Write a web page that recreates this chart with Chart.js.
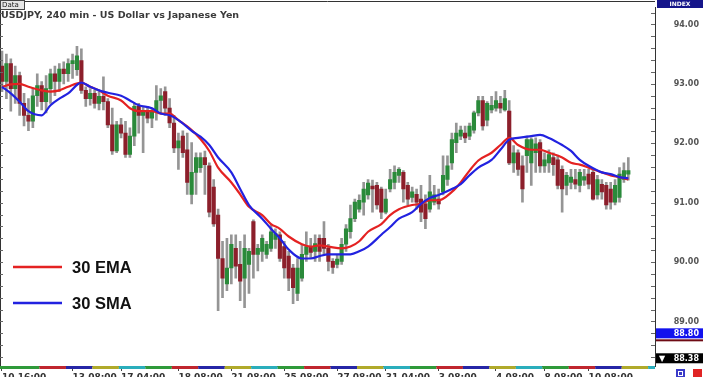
<!DOCTYPE html>
<html>
<head>
<meta charset="utf-8">
<style>
html, body { margin: 0; padding: 0; background: #fff; overflow: hidden; }
#chart_container { width: 705px; height: 384px; position: relative; }
</style>
</head>
<body>
<div id="chart_container">
  <canvas id="myChart"></canvas>
</div>

<script src="https://cdn.jsdelivr.net/npm/chart.js"></script>

<script>
const chartTitle = 'USDJPY, 240 min - US Dollar vs Japanese Yen';

// 240 min candles
const opens = [93.30,93.04,93.34,92.92,93.14,92.67,92.47,92.37,92.80,92.97,
  92.70,92.92,93.17,93.04,93.25,93.17,93.34,93.24,93.39,92.89,
  92.75,92.84,92.67,92.79,92.70,92.31,91.87,92.31,92.17,91.81,
  92.12,92.62,92.47,92.54,92.42,92.54,92.72,92.87,92.59,92.34,
  91.92,92.12,91.89,91.14,91.51,91.59,91.76,91.62,91.26,90.79,
  90.06,89.63,89.90,90.23,89.96,89.73,89.96,90.68,90.13,90.18,
  90.13,90.23,90.38,90.46,90.26,90.10,89.90,89.47,89.73,90.13,
  90.26,90.18,90.40,90.40,90.23,90.01,89.96,90.01,90.30,90.51,
  90.73,90.89,91.01,91.13,91.28,91.29,91.23,90.84,91.23,91.34,
  91.46,91.51,91.29,91.09,91.14,91.06,90.98,90.89,91.01,91.06,
  91.18,91.39,91.67,92.01,92.12,92.17,92.12,92.22,92.51,92.72,
  92.39,92.56,92.59,92.67,92.56,92.54,91.67,91.84,91.62,91.79,
  91.67,91.84,92.01,91.62,91.67,91.76,91.72,91.56,91.29,91.34,
  91.39,91.29,91.38,91.48,91.51,91.13,91.31,91.29,91.23,91.01,
  91.09,91.39,91.48];
const highs = [93.55,93.50,93.42,93.30,93.20,92.84,92.75,92.92,93.17,93.04,
  93.14,93.25,93.30,93.34,93.37,93.42,93.50,93.63,93.59,92.95,
  92.92,92.89,92.87,93.12,92.75,92.59,92.37,92.42,92.37,92.26,
  92.67,92.67,92.62,92.62,92.59,92.97,92.92,92.95,92.75,92.47,
  92.17,92.21,92.17,92.01,91.84,91.84,91.87,91.67,91.39,90.89,
  90.35,90.40,90.46,90.46,90.35,90.46,90.23,90.71,90.30,90.46,
  90.35,90.63,90.56,90.51,90.35,90.18,89.96,90.06,90.30,90.51,
  90.40,90.46,90.46,90.68,90.30,90.06,90.13,90.40,90.63,90.96,
  91.06,91.13,91.34,91.39,91.38,91.34,91.26,91.23,91.56,91.62,
  91.59,91.54,91.34,91.26,91.23,91.29,91.13,91.46,91.29,91.23,
  91.79,91.79,92.17,92.34,92.29,92.29,92.34,92.54,92.79,92.79,
  92.70,92.79,92.87,92.79,92.89,92.72,91.96,91.89,91.79,92.12,
  92.09,92.09,92.06,91.84,91.89,91.84,91.79,91.62,91.51,91.56,
  91.56,91.56,91.56,91.56,91.56,91.46,91.39,91.34,91.34,91.39,
  91.59,91.67,91.76];
const lows = [92.87,92.75,92.54,92.67,92.47,92.29,92.21,92.26,92.62,92.56,
  92.51,92.67,92.80,92.87,93.00,93.04,93.09,93.14,92.84,92.62,
  92.64,92.59,92.56,92.56,92.26,91.81,91.84,92.09,91.76,91.76,
  91.96,92.17,91.84,92.34,92.26,92.39,92.51,92.47,92.26,91.84,
  91.56,91.76,91.14,90.98,91.14,91.51,91.14,90.76,90.60,89.18,
  89.40,89.52,89.63,89.73,89.35,89.23,89.47,89.73,89.85,90.01,
  90.06,90.18,90.23,90.01,89.73,89.52,89.30,89.35,89.68,90.01,
  90.06,90.01,90.01,90.13,89.85,89.81,89.90,89.96,90.18,90.40,
  90.68,90.84,90.79,91.06,90.84,90.89,90.73,90.81,91.18,91.23,
  91.34,91.01,90.96,91.01,90.89,90.68,90.56,90.84,90.96,90.89,
  91.13,91.29,91.56,91.84,92.06,92.01,92.06,92.17,92.46,92.22,
  92.29,92.51,92.54,92.51,92.54,91.64,91.51,91.46,91.01,91.51,
  91.29,91.51,91.51,91.51,91.51,91.46,91.23,90.84,91.13,91.23,
  91.23,91.18,91.29,91.23,91.04,91.06,91.06,90.89,90.89,90.96,
  91.01,91.34,91.38];
const closes = [93.04,93.34,92.92,93.14,92.67,92.47,92.37,92.80,92.97,92.70,
  92.92,93.17,93.04,93.25,93.17,93.34,93.39,93.47,92.89,92.75,
  92.84,92.67,92.79,92.70,92.31,91.87,92.31,92.17,91.81,92.12,
  92.62,92.47,92.54,92.42,92.54,92.72,92.80,92.59,92.34,91.92,
  92.04,91.84,91.34,91.51,91.76,91.76,91.64,90.84,90.64,90.06,
  89.73,89.90,90.30,89.93,89.68,90.23,90.18,90.13,90.23,90.40,
  90.30,90.51,90.48,90.06,89.90,89.73,89.57,89.90,90.13,90.26,
  90.16,90.31,90.18,90.23,90.01,89.91,90.05,90.30,90.56,90.73,
  91.01,91.04,91.23,91.33,91.23,90.96,90.84,91.06,91.39,91.51,
  91.56,91.23,91.06,91.18,91.01,90.84,90.73,91.18,91.13,90.98,
  91.46,91.62,92.06,92.17,92.22,92.09,92.29,92.51,92.72,92.29,
  92.67,92.64,92.72,92.59,92.75,91.67,91.84,91.56,91.23,92.06,
  92.06,91.99,91.62,91.72,91.81,91.64,91.29,91.23,91.46,91.43,
  91.31,91.51,91.44,91.31,91.06,91.39,91.18,90.96,91.01,91.29,
  91.48,91.54,91.54];

// moving averages, sampled along the candle index
const maIndex = [0,2,4,6,9,11,13,15,18,20,22,24,27,29,31,34,36,38,40,43,
  45,47,49,52,54,56,59,61,63,65,68,70,72,74,77,79,81,83,86,88,
  90,93,95,97,99,102,104,106,108,111,113,115,117,120,122,124,127,129,131,133,
  136,138,140,142];
const emaValues = [92.95,92.99,93.00,92.95,92.89,92.87,92.89,92.95,93.02,92.95,
  92.89,92.80,92.72,92.59,92.54,92.54,92.50,92.50,92.39,92.22,
  92.07,91.87,91.59,91.34,91.14,90.93,90.79,90.64,90.56,90.43,
  90.30,90.26,90.28,90.26,90.23,90.26,90.35,90.51,90.64,90.79,
  90.89,90.96,90.98,91.04,91.04,91.18,91.34,91.54,91.71,91.84,
  91.97,92.09,91.97,91.89,91.89,91.84,91.76,91.67,91.64,91.59,
  91.51,91.46,91.43,91.39];
const smaValues = [92.95,92.84,92.70,92.54,92.47,92.64,92.75,92.84,93.02,92.95,
  92.89,92.85,92.80,92.72,92.64,92.59,92.50,92.47,92.39,92.21,
  92.11,91.97,91.76,91.51,91.23,90.96,90.73,90.56,90.40,90.21,
  90.06,90.06,90.10,90.13,90.13,90.13,90.18,90.26,90.46,90.59,
  90.73,90.84,90.98,91.08,91.13,91.23,91.31,91.46,91.59,91.72,
  91.89,92.06,92.09,92.12,92.14,92.09,91.97,91.87,91.72,91.62,
  91.51,91.48,91.43,91.41];

const xTickIndex = [0,16,27,40,52,64,76,87,99,112,123,133];
const xTickLabels = ['10 16:00','13 08:00','17 04:00','18 08:00','21 08:00','25 08:00',
  '27 08:00','31 04:00','3 08:00','4 08:00','8 08:00','10 08:00'];
const yTickLabels = ['89.00','90.00','91.00','92.00','93.00','94.00'];
const bidAsk = [88.80, 88.38];

const upColor = '#2a8a3a';
const downColor = '#8c1f2b';
const candleX = opens.map((v, i) => i);

// Colour strip under the time axis
const dayColors = ['#2f9a3a', '#c0262e', '#2626a6', '#b0aa2a', '#2aaebc'];

const frame = {
  id: 'frame',
  afterDraw(chart) {
    const ctx = chart.ctx, a = chart.chartArea;
    const xs = chart.scales.x, ys = chart.scales.y;
    ctx.save();

    // day strip
    let start = xs.left, k = 0;
    for (let i = 9; ; i += 6) {
      const end = Math.min(xs.getPixelForValue(i - 0.5), a.right);
      ctx.fillStyle = dayColors[k % dayColors.length];
      ctx.fillRect(start, a.bottom, end - start, 3);
      start = end; k++;
      if (end >= a.right) break;
    }

    // frame lines
    ctx.strokeStyle = '#333';
    ctx.lineWidth = 1;
    ctx.beginPath();
    ctx.moveTo(0, 1.5); ctx.lineTo(a.right, 1.5);
    ctx.moveTo(0.5, 1); ctx.lineTo(0.5, a.bottom);
    ctx.stroke();

    // small ticks, inside both edges
    ctx.strokeStyle = '#666';
    ctx.beginPath();
    ys.ticks.forEach(t => {
      const py = Math.round(ys.getPixelForValue(t.value)) + 0.5;
      ctx.moveTo(a.right - 4, py); ctx.lineTo(a.right, py);
      ctx.moveTo(0, py); ctx.lineTo(3, py);
    });
    ctx.stroke();

    // title box
    ctx.fillStyle = '#e6e6e6';
    ctx.fillRect(0.5, 0.5, 24, 9);
    ctx.strokeStyle = '#444';
    ctx.strokeRect(0.5, 0.5, 24, 9);
    ctx.fillStyle = '#222';
    ctx.font = '7px "DejaVu Sans"';
    ctx.textBaseline = 'middle';
    ctx.textAlign = 'left';
    ctx.fillText('Data', 2, 5.5);
    ctx.fillStyle = '#3a3a3a';
    ctx.font = 'bold 9.5px "DejaVu Sans"';
    ctx.fillText(chartTitle, 1, 16);

    // INDEX badge
    ctx.fillStyle = '#15158a';
    ctx.fillRect(657, 0, 46, 8);
    ctx.fillStyle = '#fff';
    ctx.font = 'bold 6px "DejaVu Sans"';
    ctx.textAlign = 'center';
    ctx.fillText('INDEX', 680, 4.5);

    // price badges
    ctx.font = 'bold 8px "DejaVu Sans"';
    ctx.textAlign = 'right';
    const pBid = ys.getPixelForValue(bidAsk[0]);
    ctx.fillStyle = '#1212ee';
    ctx.fillRect(a.right + 1, pBid - 5, 47, 10);
    ctx.fillStyle = '#fff';
    ctx.fillText(bidAsk[0].toFixed(2), 699, pBid + 0.5);
    ctx.fillStyle = '#6e0a14';
    ctx.fillRect(a.right + 1, pBid + 6, 47, 2);
    const pAsk = ys.getPixelForValue(bidAsk[1]);
    ctx.fillStyle = '#000';
    ctx.fillRect(a.right + 1, pAsk - 5, 47, 10);
    ctx.fillStyle = '#fff';
    ctx.fillText(bidAsk[1].toFixed(2), 699, pAsk + 0.5);
    ctx.textAlign = 'left';
    ctx.fillText('\u25BC', 659, pAsk + 0.5);

    // little buttons bottom right
    ctx.fillStyle = '#3a3ac8';
    ctx.fillRect(676, 369, 9, 8);
    ctx.fillStyle = '#e02424';
    ctx.fillRect(693, 369, 9, 8);
    ctx.strokeStyle = '#fff';
    ctx.strokeRect(678.5, 371.5, 4, 4);

    // legend
    ctx.font = 'bold 16.5px "Liberation Sans"';
    ctx.textBaseline = 'middle';
    [[2, 267], [3, 303]].forEach(([d, py]) => {
      const ds = chart.data.datasets[d];
      ctx.strokeStyle = ds.borderColor;
      ctx.lineWidth = 2.5;
      ctx.beginPath();
      ctx.moveTo(13, py); ctx.lineTo(62, py);
      ctx.stroke();
      ctx.fillStyle = '#111';
      ctx.fillText(ds.label, 72, py + 1);
    });
    ctx.restore();
  }
};

const ctx = document.getElementById('myChart');

new Chart(ctx, {
  type: 'bar',
  data: {
    datasets: [{
      label: 'wicks',
      data: candleX.map(i => ({x: i, y: [lows[i], highs[i]]})),
      backgroundColor: '#959595',
      barThickness: 2,
      grouped: false,
      order: 3
    }, {
      label: 'bodies',
      data: candleX.map(i => ({x: i, y: [opens[i], closes[i]]})),
      backgroundColor: candleX.map(i => closes[i] >= opens[i] ? upColor : downColor),
      barThickness: 3.5,
      minBarLength: 1,
      grouped: false,
      order: 2
    }, {
      type: 'line',
      label: '30 EMA',
      data: maIndex.map((x, k) => ({x: x, y: emaValues[k]})),
      borderColor: '#e42222',
      borderWidth: 2.2,
      pointRadius: 0,
      cubicInterpolationMode: 'monotone',
      order: 1
    }, {
      type: 'line',
      label: '30 SMA',
      data: maIndex.map((x, k) => ({x: x, y: smaValues[k]})),
      borderColor: '#2222e0',
      borderWidth: 2.2,
      pointRadius: 0,
      cubicInterpolationMode: 'monotone',
      order: 0
    }]
  },
  options: {
    responsive: true,
    maintainAspectRatio: false,
    animation: false,
    layout: { padding: { top: 3, right: 6, left: 0, bottom: 0 } },
    plugins: { legend: { display: false }, tooltip: { enabled: false } },
    scales: {
      x: {
        type: 'linear',
        offset: false,
        min: -0.45,
        max: 148.05,
        afterBuildTicks: s => { s.ticks = xTickIndex.map(v => ({value: v})); },
        afterFit: s => { s.height = 18; },
        ticks: {
          autoSkip: false,
          maxRotation: 0,
          align: 'start',
          padding: 1,
          color: '#333',
          font: { family: 'DejaVu Sans', size: 9, weight: 'bold' },
          callback: v => xTickLabels[xTickIndex.indexOf(v)]
        },
        grid: { offset: false, drawOnChartArea: false, tickLength: 5, color: '#444' },
        border: { color: '#444' }
      },
      y: {
        position: 'right',
        min: 88.25,
        max: 94.28,
        afterBuildTicks: s => {
          const t = [];
          for (let k = 442; k <= 471; k++) t.push({value: k / 5});
          s.ticks = t;
        },
        afterFit: s => { s.width = 44; },
        ticks: {
          autoSkip: false,
          crossAlign: 'far',
          color: '#555',
          font: { family: 'DejaVu Sans', size: 8, weight: 'bold' },
          callback: v => yTickLabels.find(l => Math.abs(Number(l) - v) < 1e-6) || ''
        },
        grid: { display: false },
        border: { display: true, color: '#333' }
      }
    }
  },
  plugins: [frame]
});
</script>
</body>
</html>
